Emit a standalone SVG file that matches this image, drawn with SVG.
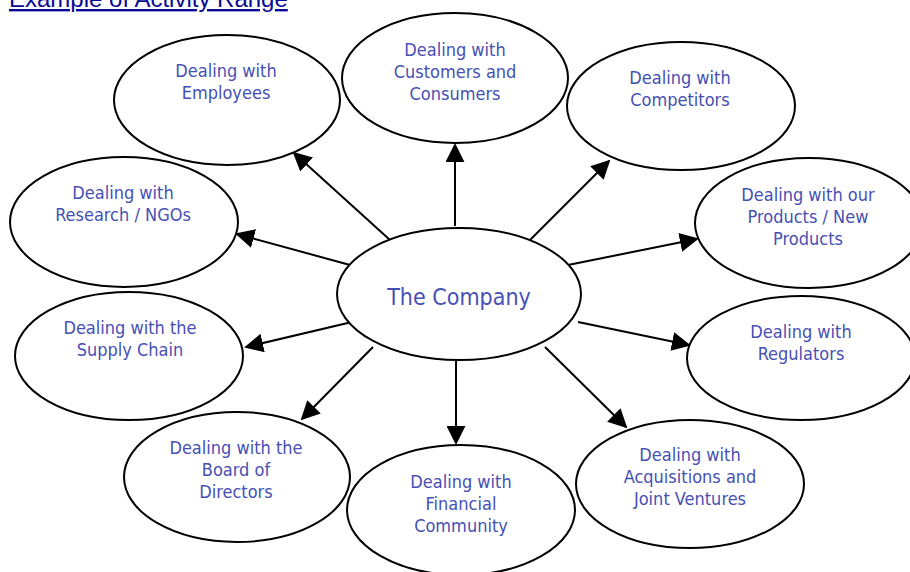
<svg xmlns="http://www.w3.org/2000/svg" width="910" height="572" viewBox="0 0 910 572">
  <style>
    .node ellipse { fill: #ffffff; stroke: #000000; stroke-width: 2; }
    .node text { font-family: "DejaVu Sans Condensed", "DejaVu Sans", sans-serif; font-stretch: condensed; font-size: 18px; fill: #4650b4; text-anchor: middle; }
    #company text { font-size: 23px; }
    .title { font-family: "Liberation Sans", Arial, sans-serif; font-size: 24px; fill: #0a0a96; text-decoration: underline; }
    #connectors line { stroke: #000000; stroke-width: 2; marker-end: url(#arrow); }
  </style>
  <defs>
    <marker id="arrow" markerUnits="userSpaceOnUse" viewBox="0 0 20 20" refX="18" refY="10" markerWidth="19" markerHeight="19" orient="auto">
      <path d="M0,0 L20,10 L0,20 z" fill="#000000"/>
    </marker>
  </defs>

  <rect width="910" height="572" fill="#ffffff"/>

  <text class="title" x="9" y="7">Example of Activity Range</text>

  <g id="connectors">
    <line x1="455" y1="226" x2="455" y2="145"/>
    <line x1="390" y1="240" x2="294" y2="153"/>
    <line x1="530" y1="240" x2="609" y2="161"/>
    <line x1="350" y1="265" x2="237" y2="234"/>
    <line x1="568" y1="265" x2="697" y2="239"/>
    <line x1="352" y1="322" x2="246" y2="347"/>
    <line x1="578" y1="322" x2="689" y2="345"/>
    <line x1="373" y1="347" x2="302" y2="419"/>
    <line x1="456" y1="361" x2="456" y2="443"/>
    <line x1="545" y1="347" x2="626" y2="427"/>
  </g>

  <g id="employees" class="node">
    <ellipse cx="227" cy="100" rx="113" ry="65"/>
    <text x="226" y="77">Dealing with</text>
    <text x="226" y="99">Employees</text>
  </g>

  <g id="customers" class="node">
    <ellipse cx="455" cy="78" rx="113" ry="65"/>
    <text x="455" y="56">Dealing with</text>
    <text x="455" y="78">Customers and</text>
    <text x="455" y="100">Consumers</text>
  </g>

  <g id="competitors" class="node">
    <ellipse cx="681" cy="106" rx="114" ry="64"/>
    <text x="680" y="84">Dealing with</text>
    <text x="680" y="106">Competitors</text>
  </g>

  <g id="research" class="node">
    <ellipse cx="124" cy="222" rx="114" ry="65"/>
    <text x="123" y="199">Dealing with</text>
    <text x="123" y="221">Research / NGOs</text>
  </g>

  <g id="products" class="node">
    <ellipse cx="809" cy="223" rx="114" ry="65"/>
    <text x="808" y="201">Dealing with our</text>
    <text x="808" y="223">Products / New</text>
    <text x="808" y="245">Products</text>
  </g>

  <g id="supply-chain" class="node">
    <ellipse cx="129" cy="356" rx="114" ry="64"/>
    <text x="130" y="334">Dealing with the</text>
    <text x="130" y="356">Supply Chain</text>
  </g>

  <g id="regulators" class="node">
    <ellipse cx="801" cy="358" rx="114" ry="62"/>
    <text x="801" y="338">Dealing with</text>
    <text x="801" y="360">Regulators</text>
  </g>

  <g id="board" class="node">
    <ellipse cx="237" cy="477" rx="113" ry="65"/>
    <text x="236" y="454">Dealing with the</text>
    <text x="236" y="476">Board of</text>
    <text x="236" y="498">Directors</text>
  </g>

  <g id="financial" class="node">
    <ellipse cx="461" cy="510" rx="114" ry="65"/>
    <text x="461" y="488">Dealing with</text>
    <text x="461" y="510">Financial</text>
    <text x="461" y="532">Community</text>
  </g>

  <g id="acquisitions" class="node">
    <ellipse cx="690" cy="484" rx="114" ry="64"/>
    <text x="690" y="461">Dealing with</text>
    <text x="690" y="483">Acquisitions and</text>
    <text x="690" y="505">Joint Ventures</text>
  </g>

  <g id="company" class="node">
    <ellipse cx="459" cy="294" rx="122" ry="66"/>
    <text x="459" y="305">The Company</text>
  </g>
</svg>
